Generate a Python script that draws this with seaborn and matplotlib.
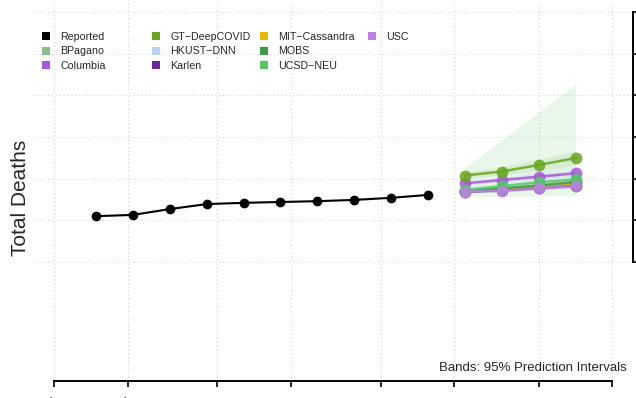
import matplotlib
matplotlib.use("Agg")
import matplotlib.pyplot as plt
import matplotlib.dates as mdates
from matplotlib.lines import Line2D
import seaborn as sns
import pandas as pd

sns.set_style("white")
plt.rcParams["font.family"] = ["Liberation Sans", "DejaVu Sans"]

# observed weekly totals
reported_dates = pd.date_range("2020-07-09", periods=10, freq="7D")
reported = [2550, 2565, 2635, 2695, 2710, 2720, 2730, 2745, 2770, 2805]

# 4-week-ahead forecasts
forecast_dates = pd.date_range("2020-09-17", periods=4, freq="7D")
models = ["BPagano", "Columbia", "GT−DeepCOVID", "HKUST−DNN", "Karlen",
          "MIT−Cassandra", "MOBS", "UCSD−NEU", "USC"]
colors = ["#8FBC8F", "#A857D8", "#66A61E", "#B9D0F2", "#6A2C91",
          "#E6B80A", "#3D9A48", "#55C667", "#BB82E2"]
point = {
    "BPagano":       [2846, 2870, 2900, 2930],
    "Columbia":      [2944, 2984, 3024, 3064],
    "GT−DeepCOVID":  [3038, 3086, 3164, 3248],
    "HKUST−DNN":     [2852, 2882, 2918, 2954],
    "Karlen":        [2840, 2864, 2888, 2918],
    "MIT−Cassandra": [2846, 2876, 2908, 2944],
    "MOBS":          [2852, 2882, 2918, 2960],
    "UCSD−NEU":      [2864, 2912, 2956, 2992],
    "USC":           [2844, 2856, 2884, 2912],
}
lower = {
    "BPagano":       [2830, 2850, 2875, 2900],
    "Columbia":      [2925, 2960, 2995, 3030],
    "GT−DeepCOVID":  [3000, 3040, 3100, 3170],
    "HKUST−DNN":     [2840, 2860, 2880, 2900],
    "Karlen":        [2825, 2845, 2865, 2890],
    "MIT−Cassandra": [2830, 2855, 2880, 2910],
    "MOBS":          [2835, 2860, 2890, 2925],
    "UCSD−NEU":      [2780, 2786, 2792, 2798],
    "USC":           [2830, 2840, 2860, 2885],
}
upper = {
    "BPagano":       [2862, 2890, 2925, 2960],
    "Columbia":      [2965, 3010, 3055, 3100],
    "GT−DeepCOVID":  [3080, 3140, 3230, 3330],
    "HKUST−DNN":     [2910, 3010, 3100, 3180],
    "Karlen":        [2855, 2885, 2912, 2948],
    "MIT−Cassandra": [2862, 2898, 2936, 2980],
    "MOBS":          [2870, 2905, 2948, 2995],
    "UCSD−NEU":      [3128, 3464, 3800, 4136],
    "USC":           [2858, 2872, 2910, 2940],
}
xtick_dates = pd.to_datetime(["2020-07-01", "2020-07-15", "2020-08-01", "2020-08-15",
                              "2020-09-01", "2020-09-15", "2020-10-01", "2020-10-15"])
ytick_vals = [2000, 2500, 3000, 3500, 4000, 4500, 5000]

palette = dict(zip(models, colors))
fc = pd.DataFrame(
    [(m, d, v) for m in models for d, v in zip(forecast_dates, point[m])],
    columns=["model", "date", "deaths"],
)
obs = pd.DataFrame({"date": reported_dates, "deaths": reported})

fig = plt.figure(figsize=(6.36, 3.98), dpi=100)
ax = fig.add_axes([32 / 636, 17 / 398, 601 / 636, 381 / 398])

for m in models:
    ax.fill_between(forecast_dates, lower[m], upper[m], color=palette[m],
                    alpha=0.13, linewidth=0)

sns.lineplot(data=obs, x="date", y="deaths", color="black", marker="o",
             markersize=7, markeredgewidth=0, linewidth=1.5, ax=ax)
sns.lineplot(data=fc, x="date", y="deaths", hue="model", hue_order=models,
             palette=palette, marker="o", markersize=8.5, markeredgewidth=0,
             linewidth=1.8, alpha=0.85, errorbar=None, legend=False, ax=ax)

# axis geometry
x0 = mdates.date2num(xtick_dates[0])
x1 = mdates.date2num(xtick_dates[-1])
ax.set_xlim(x0 - 4.14, x1 + 3.9)
ax.set_ylim(572, 5144)
ax.set_xticks(xtick_dates)
ax.xaxis.set_major_formatter(mdates.DateFormatter("%b %d"))
ax.set_yticks(ytick_vals)
ax.yaxis.tick_right()
ax.tick_params(axis="y", right=True, direction="out", length=3, width=1.4,
               labelright=False)
ax.tick_params(axis="x", bottom=True, direction="out", length=4, width=1.4,
               pad=7.3, labelsize=10)
ax.grid(True, color="#D3D3D3", linestyle=(0, (1, 2.5)), linewidth=0.8)
for s in ["top", "left"]:
    ax.spines[s].set_visible(False)
ax.spines["bottom"].set_bounds(x0, x1)
ax.spines["right"].set_bounds(ytick_vals[0], ytick_vals[-1])
for s in ["bottom", "right"]:
    ax.spines[s].set_linewidth(1.4)
    ax.spines[s].set_color("black")

ax.set_xlabel("")
ax.set_ylabel("Total Deaths", fontsize=15)
ax.yaxis.set_label_position("left")
ax.yaxis.set_label_coords(-0.004, 0.4816)

ax.text((627 - 32) / 601, (381 - 371) / 381,
        "Bands: 95% Prediction Intervals", transform=ax.transAxes,
        ha="right", va="baseline", fontsize=9.5)

# legend, 4 columns laid out like the original
leg_labels = ["Reported"] + models
leg_colors = ["black"] + colors
cols = [leg_labels[0:3], leg_labels[3:6], leg_labels[6:9], leg_labels[9:]]
col_x = [41, 151, 259, 367]
lc = dict(zip(leg_labels, leg_colors))
for labs, cx in zip(cols, col_x):
    handles = [Line2D([], [], linestyle="none", marker="s", markersize=6.3,
                      markeredgewidth=0, color=lc[l]) for l in labs]
    fig.legend(handles, labs, loc="upper left",
               bbox_to_anchor=(cx / 636, 1 - 32 / 398), frameon=False,
               fontsize=7.7, handlelength=1.0, handletextpad=0.8,
               labelspacing=0.42, borderpad=0, borderaxespad=0)

fig.savefig("out.png", dpi=100)
